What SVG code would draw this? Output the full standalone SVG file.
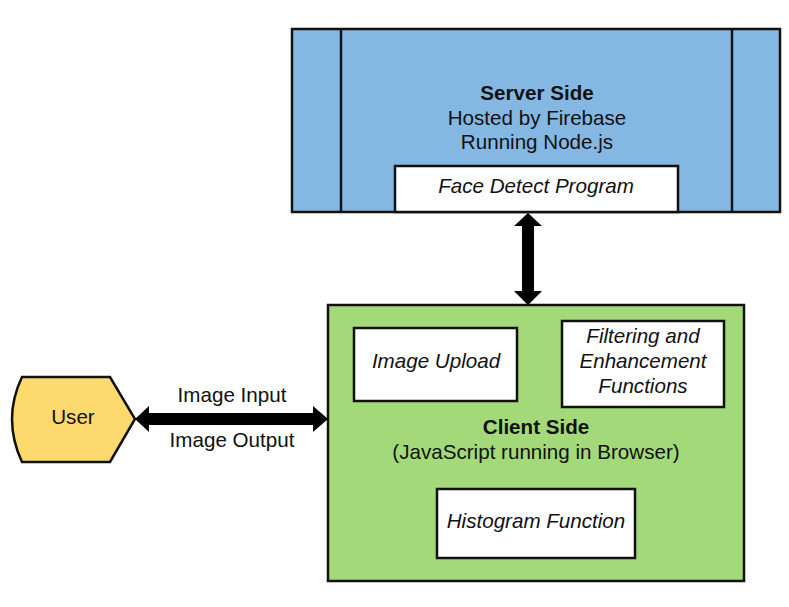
<svg xmlns="http://www.w3.org/2000/svg" width="789" height="607" viewBox="0 0 789 607">
<style>
.box{stroke:#111;stroke-width:2.5}
.w{fill:#fff;stroke:#111;stroke-width:2.5}
text{font-family:"Liberation Sans",Arial,sans-serif;font-size:20.6px;fill:#111;text-anchor:middle}
.b{font-weight:bold}
.i{font-style:italic}
</style>
<rect width="789" height="607" fill="#fff"/>
<g id="server">
<rect class="box" x="292" y="29" width="488" height="183" fill="#84B8E3"/>
<line class="box" x1="341" y1="29" x2="341" y2="212"/>
<line class="box" x1="732" y1="29" x2="732" y2="212"/>
<text class="b" x="537" y="100">Server Side</text>
<text x="537" y="125">Hosted by Firebase</text>
<text x="537" y="149">Running Node.js</text>
</g>
<g id="face-detect">
<rect class="w" x="395" y="166" width="283" height="46"/>
<text class="i" x="536" y="193">Face Detect Program</text>
</g>
<g id="client">
<rect class="box" x="328" y="305" width="416" height="276" fill="#A3D978"/>
<text class="b" x="536" y="434">Client Side</text>
<text x="536" y="459">(JavaScript running in Browser)</text>
</g>
<g id="image-upload">
<rect class="w" x="354" y="328" width="163" height="73"/>
<text class="i" x="436" y="368">Image Upload</text>
</g>
<g id="filtering">
<rect class="w" x="562" y="321" width="162" height="86"/>
<text class="i" x="643" y="343">Filtering and</text>
<text class="i" x="643" y="368">Enhancement</text>
<text class="i" x="643" y="393">Functions</text>
</g>
<g id="histogram">
<rect class="w" x="437" y="489" width="198" height="69"/>
<text class="i" x="536" y="528">Histogram Function</text>
</g>
<g id="user">
<path class="box" d="M22,377 L110,377 L135,419 L110,462 L22,462 Q2,419 22,377 Z" fill="#FDD96E"/>
<text x="73" y="424">User</text>
</g>
<g id="connectors">
<polygon fill="#000" points="528,213 542,226 534,226 534,291 542,291 528,305 514,291 522,291 522,226 514,226"/>
<polygon fill="#000" points="135,419 149,406 149,413 313,413 313,406 328,419 313,432 313,425 149,425 149,432"/>
<text x="232" y="402">Image Input</text>
<text x="232" y="447">Image Output</text>
</g>
</svg>
